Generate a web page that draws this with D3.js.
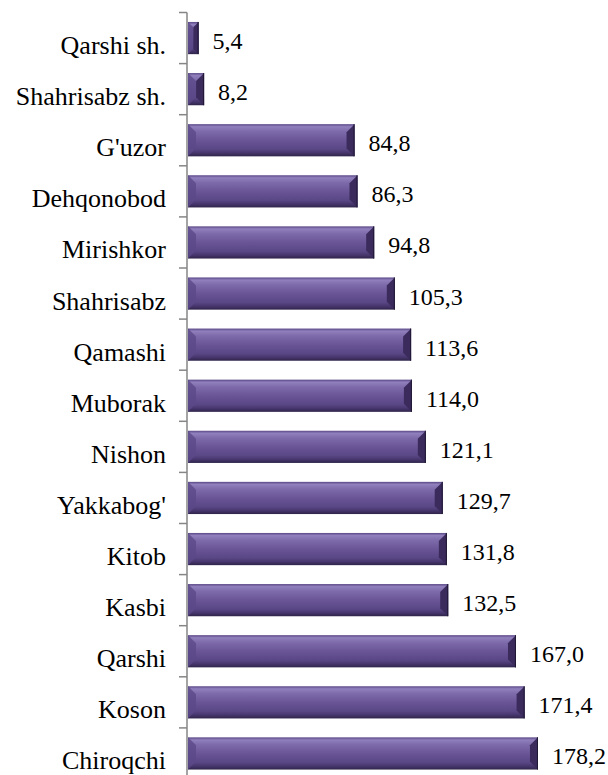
<!DOCTYPE html>
<html><head><meta charset="utf-8"><script src="https://cdn.jsdelivr.net/npm/d3@7"></script></head>
<body style="margin:0">
<svg id="s" width="608" height="775"></svg>
<script>
// tumanlar va qiymatlar (yuqoridan pastga)
const districts = ["Qarshi sh.", "Shahrisabz sh.", "G'uzor", "Dehqonobod", "Mirishkor",
  "Shahrisabz", "Qamashi", "Muborak", "Nishon", "Yakkabog'", "Kitob", "Kasbi",
  "Qarshi", "Koson", "Chiroqchi"];
const values = [5.4, 8.2, 84.8, 86.3, 94.8, 105.3, 113.6, 114.0, 121.1, 129.7,
  131.8, 132.5, 167.0, 171.4, 178.2];
const rows = districts.map((name, i) => ({ name, value: values[i] }));

const svg = d3.select('#s');
const axisX = 187;

const x = d3.scaleLinear().domain([0, 180]).range([axisX + 1, axisX + 1 + 353.5]);
const y = d3.scaleBand().domain(districts).range([12.5, 779])
  .paddingInner(0.37).paddingOuter(0.185);
const step = y.step();
const fmt = v => v.toFixed(1).replace('.', ',');

// gradient
const defs = svg.append('defs');
const body = defs.append('linearGradient').attr('id', 'barBody')
  .attr('x1', 0).attr('y1', 0).attr('x2', 0).attr('y2', 1);
[[0, '#5a4786'], [0.08, '#9080bc'], [0.22, '#7e6bab'], [0.5, '#6a5697'],
 [0.78, '#594685'], [0.9, '#45356b'], [1, '#2f2449']]
  .forEach(([o, c]) => body.append('stop').attr('offset', o).attr('stop-color', c));

// bar
const bev = 8;
const bar = svg.append('g').selectAll('g').data(rows).join('g');

bar.append('rect')
  .attr('x', x(0))
  .attr('y', d => y(d.name))
  .attr('width', d => x(d.value) - x(0))
  .attr('height', y.bandwidth())
  .attr('fill', 'url(#barBody)');

// chap va o'ng qirralar
bar.append('polygon')
  .attr('points', d => {
    const x0 = x(0), y0 = y(d.name), y1 = y0 + y.bandwidth();
    const b = Math.min(bev, (x(d.value) - x0) / 2);
    return [[x0, y0], [x0 + b, y0 + b], [x0 + b, y1 - b], [x0, y1]].join(' ');
  })
  .attr('fill', '#5b4888').attr('opacity', 0.8);

bar.append('polygon')
  .attr('points', d => {
    const x1 = x(d.value), y0 = y(d.name), y1 = y0 + y.bandwidth();
    const b = Math.min(bev, (x1 - x(0)) / 2);
    return [[x1, y0], [x1 - b, y0 + b], [x1 - b, y1 - b], [x1, y1]].join(' ');
  })
  .attr('fill', '#3a2b5c');

bar.append('line')
  .attr('x1', d => x(d.value) - 0.5).attr('x2', d => x(d.value) - 0.5)
  .attr('y1', d => y(d.name)).attr('y2', d => y(d.name) + y.bandwidth())
  .attr('stroke', '#1f1733').attr('stroke-width', 1);

// qiymat yorliqlari
svg.append('g').selectAll('text').data(rows).join('text')
  .attr('x', d => x(d.value) + 14)
  .attr('y', d => y(d.name) + y.bandwidth() / 2 + 11)
  .attr('font-size', 24).attr('font-family', 'Times New Roman')
  .text(d => fmt(d.value));

// o'q
const ax = svg.append('g');
ax.append('line')
  .attr('x1', axisX).attr('x2', axisX)
  .attr('y1', 12.5).attr('y2', 779)
  .attr('stroke', '#868686').attr('stroke-width', 1.5);
ax.append('g').selectAll('line').data(districts).join('line')
  .attr('x1', axisX - 8).attr('x2', axisX)
  .attr('y1', d => y(d) - step * 0.185).attr('y2', d => y(d) - step * 0.185)
  .attr('stroke', '#868686').attr('stroke-width', 1.5);

ax.append('g').selectAll('text').data(districts).join('text')
  .attr('x', axisX - 21)
  .attr('y', d => y(d) + y.bandwidth() / 2 + 16)
  .attr('text-anchor', 'end')
  .attr('font-size', 26).attr('font-family', 'Times New Roman')
  .text(d => d);
</script>
</body></html>
